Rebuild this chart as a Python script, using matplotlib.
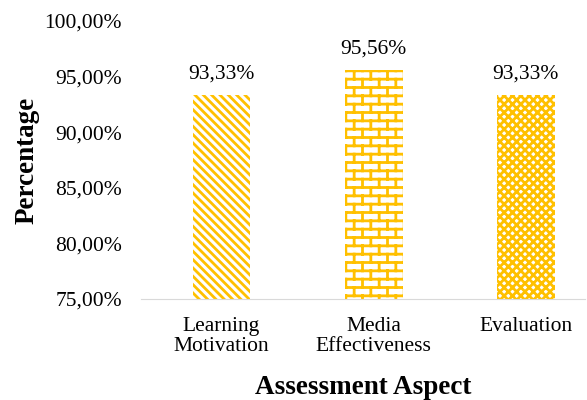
import numpy as np
import matplotlib.pyplot as plt
from matplotlib import hatch as mhatch
from matplotlib.path import Path
from matplotlib.ticker import FuncFormatter
import warnings

warnings.filterwarnings('ignore')

plt.rcParams['font.family'] = ['Liberation Serif', 'DejaVu Serif']
plt.rcParams['hatch.color'] = '#FFC000'
plt.rcParams['hatch.linewidth'] = 2.0


# brick hatch ('b'), like the Excel brick fill
class BrickHatch(mhatch.HatchPatternBase):
    def __init__(self, hatch, density):
        self.n = int(hatch.count('b') * density)
        segs = []
        if self.n:
            rows = 2 * self.n
            h = 1.0 / rows
            for k in range(rows):
                y = (k + 0.5) * h
                segs.append(((0.0, y), (1.0, y)))
                y0, y1 = y, y + h
                for j in range(self.n):
                    xv = (j + 0.25 + 0.5 * (k % 2)) / self.n
                    if y1 <= 1.0:
                        segs.append(((xv, y0), (xv, y1)))
                    else:
                        segs.append(((xv, y0), (xv, 1.0)))
                        segs.append(((xv, 0.0), (xv, y1 - 1.0)))
        self.segs = segs
        self.num_vertices = 2 * len(segs)

    def set_vertices_and_codes(self, vertices, codes):
        for i, (a, b) in enumerate(self.segs):
            vertices[2 * i] = a
            vertices[2 * i + 1] = b
        codes[0::2] = Path.MOVETO
        codes[1::2] = Path.LINETO


mhatch._hatch_types.append(BrickHatch)

# Data
aspects = ['Learning\nMotivation', 'Media\nEffectiveness', 'Evaluation']
values = [93.33, 95.56, 93.33]
hatches = ['\\\\\\\\', 'b', 'xxxx']

fig = plt.figure(figsize=(5.87, 4.0), dpi=100)
ax = fig.add_axes([0.24, 0.2525, 0.757, 0.695])

x = range(len(aspects))
for i, (v, h) in enumerate(zip(values, hatches)):
    ax.bar(i, v - 75, bottom=75, width=0.38, color='white',
           edgecolor='#FFC000', linewidth=0, hatch=h)
    ax.text(i, v + 1.05, f'{v:.2f}%'.replace('.', ','), ha='center',
            va='bottom', fontsize=15.5)

ax.set_ylim(75, 100)
ax.set_xlim(-0.53, 2.39)
ax.set_yticks([75, 80, 85, 90, 95, 100])
ax.yaxis.set_major_formatter(FuncFormatter(lambda v, p: f'{v:.2f}%'.replace('.', ',')))
ax.set_xticks(list(x))
ax.set_xticklabels(aspects, linespacing=1.1)
ax.tick_params(axis='both', length=0, labelsize=15.5)
ax.tick_params(axis='x', pad=13)
ax.tick_params(axis='y', pad=13.5)

for s in ['top', 'right', 'left']:
    ax.spines[s].set_visible(False)
ax.spines['bottom'].set_color('#d9d9d9')

ax.set_ylabel('Percentage', fontsize=19.5, fontweight='bold', labelpad=4)
ax.set_xlabel('Assessment Aspect', fontsize=19.5, fontweight='bold', labelpad=13)

fig.savefig('out.png', dpi=100)
